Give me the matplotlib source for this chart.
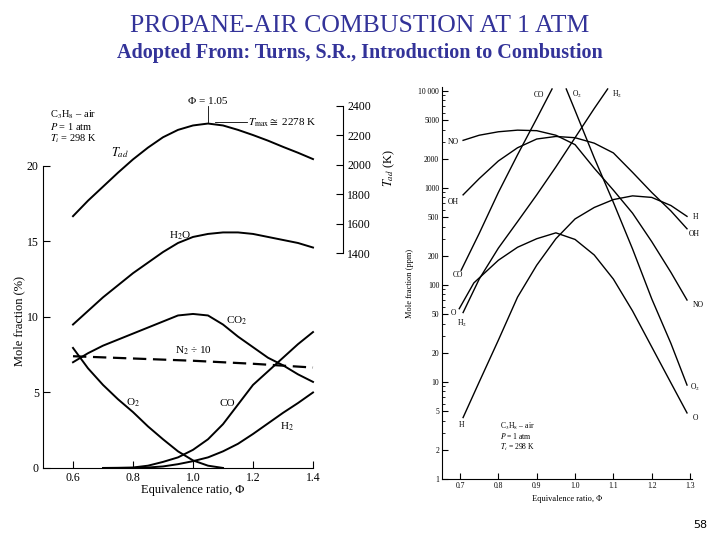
import numpy as np
import matplotlib.pyplot as plt
from matplotlib.ticker import FixedLocator, NullFormatter, LogLocator

plt.rcParams['font.family'] = ['Liberation Serif', 'DejaVu Serif']
plt.rcParams['mathtext.fontset'] = 'stix'

# ---- left panel: major species (mole %) and adiabatic flame temperature ----
phi = [0.6, 0.65, 0.7, 0.75, 0.8, 0.85, 0.9, 0.95, 1.0, 1.05, 1.1, 1.15, 1.2, 1.25, 1.3, 1.35, 1.4]
t_ad = [1650, 1755, 1850, 1945, 2035, 2115, 2185, 2235, 2265, 2278, 2265, 2235, 2200, 2162, 2120, 2080, 2037]
h2o = [9.5, 10.4, 11.3, 12.1, 12.9, 13.6, 14.3, 14.9, 15.3, 15.5, 15.6, 15.6, 15.5, 15.3, 15.1, 14.9, 14.6]
co2 = [7.0, 7.6, 8.1, 8.5, 8.9, 9.3, 9.7, 10.1, 10.2, 10.1, 9.5, 8.7, 8.0, 7.3, 6.8, 6.2, 5.7]

phi_n2 = [0.6, 0.8, 1.0, 1.2, 1.4]
n2_div10 = [7.4, 7.25, 7.1, 6.9, 6.65]

phi_o2 = [0.6, 0.65, 0.7, 0.75, 0.8, 0.85, 0.9, 0.95, 1.0, 1.05, 1.1]
o2 = [7.95, 6.6, 5.5, 4.55, 3.7, 2.75, 1.9, 1.1, 0.5, 0.15, 0.0]

phi_co = [0.7, 0.75, 0.8, 0.85, 0.9, 0.95, 1.0, 1.05, 1.1, 1.15, 1.2, 1.25, 1.3, 1.35, 1.4]
co = [0.0, 0.01, 0.03, 0.15, 0.4, 0.7, 1.2, 1.9, 2.9, 4.2, 5.5, 6.4, 7.3, 8.2, 9.0]

phi_h2 = [0.8, 0.85, 0.9, 0.95, 1.0, 1.05, 1.1, 1.15, 1.2, 1.25, 1.3, 1.35, 1.4]
h2 = [0.0, 0.03, 0.1, 0.25, 0.45, 0.7, 1.1, 1.6, 2.25, 2.95, 3.65, 4.3, 5.0]

# ---- right panel: minor species (ppm) ----
phi_co_ppm = [0.703, 0.75, 0.8, 0.85, 0.9, 0.94]
co_ppm = [142, 340, 900, 2200, 5200, 10500]

phi_o2_ppm = [0.977, 1.0, 1.05, 1.1, 1.15, 1.2, 1.25, 1.292]
o2_ppm = [10500, 6300, 2050, 710, 235, 72, 25, 9.3]

phi_h2_ppm = [0.708, 0.75, 0.8, 0.85, 0.9, 0.95, 1.0, 1.05, 1.085]
h2_ppm = [52, 115, 240, 450, 850, 1650, 3300, 6600, 10500]

phi_r = [0.708, 0.75, 0.8, 0.85, 0.9, 0.95, 1.0, 1.05, 1.1, 1.15, 1.2, 1.25, 1.292]
no_ppm = [3100, 3500, 3800, 3950, 3900, 3500, 2800, 1600, 950, 550, 280, 135, 70]
oh_ppm = [850, 1250, 1900, 2600, 3200, 3400, 3300, 2900, 2300, 1450, 900, 580, 380]
h_ppm = [4.3, 10, 27, 75, 160, 300, 480, 630, 760, 830, 800, 660, 510]

phi_o_ppm = [0.698, 0.736, 0.8, 0.85, 0.9, 0.95, 1.0, 1.05, 1.1, 1.15, 1.2, 1.25, 1.292]
o_ppm = [57, 105, 180, 245, 300, 345, 295, 204, 115, 54, 23, 9.8, 4.8]

fig = plt.figure(figsize=(7.2, 5.4), dpi=100)

fig.text(0.5, 0.952, 'PROPANE-AIR COMBUSTION AT 1 ATM', ha='center', va='center',
         fontsize=18.5, color='#333399')
fig.text(0.5, 0.902, 'Adopted From: Turns, S.R., Introduction to Combustion', ha='center',
         va='center', fontsize=14.5, fontweight='bold', color='#333399')
fig.text(0.983, 0.018, '58', ha='right', va='bottom', fontsize=8, family='DejaVu Sans')

# ---------------- left panel ----------------
ax = fig.add_axes([43 / 720, 64.5 / 540, 300 / 720, 385 / 540])
ax.set_xlim(0.5, 1.5)
ax.set_ylim(-0.5, 25)
lw = 1.4
ax.plot(phi, h2o, color='black', lw=lw)
ax.plot(phi, co2, color='black', lw=lw)
ax.plot(phi_n2, n2_div10, color='black', lw=1.6, ls=(0, (6, 3)))
ax.plot(phi_o2, o2, color='black', lw=lw)
ax.plot(phi_co, co, color='black', lw=lw)
ax.plot(phi_h2, h2, color='black', lw=lw)

for s in ['top', 'right']:
    ax.spines[s].set_visible(False)
ax.spines['bottom'].set_position(('data', 0))
ax.spines['bottom'].set_bounds(0.5, 1.4)
ax.spines['left'].set_bounds(0, 20)
ax.set_xticks([0.6, 0.8, 1.0, 1.2, 1.4])
ax.set_xticklabels(['0.6', '0.8', '1.0', '1.2', '1.4'])
ax.set_yticks([0, 5, 10, 15, 20])
ax.tick_params(direction='in', length=5, labelsize=8.5, pad=3)
ax.set_xlabel('Equivalence ratio, Φ', fontsize=9)
ax.set_ylabel('Mole fraction (%)', fontsize=9)
ax.yaxis.set_label_coords(-0.06, 0.4)
ax.xaxis.set_label_coords(0.5, -0.022)

ax.text(1.0, 7.75, 'N$_2$ ÷ 10', fontsize=8, ha='center', va='center')
ax.text(0.957, 15.35, 'H$_2$O', fontsize=8, ha='center', va='center')
ax.text(1.147, 9.75, 'CO$_2$', fontsize=8, ha='center', va='center')
ax.text(0.8, 4.3, 'O$_2$', fontsize=8, ha='center', va='center')
ax.text(1.113, 4.3, 'CO', fontsize=8, ha='center', va='center')
ax.text(1.313, 2.7, 'H$_2$', fontsize=8, ha='center', va='center')

# twin temperature axis
ax2 = ax.twinx()
ax2.set_ylim(-108, 2502)
ax2.plot(phi, t_ad, color='black', lw=lw)
for s in ['top', 'left', 'bottom']:
    ax2.spines[s].set_visible(False)
ax2.spines['right'].set_bounds(1400, 2400)
ax2.set_yticks([1400, 1600, 1800, 2000, 2200, 2400])
ax2.tick_params(direction='in', length=5, labelsize=8.5, pad=3)
ax2.set_ylabel('$T_{ad}$ (K)', fontsize=9)
ax2.yaxis.set_label_coords(1.13, 0.8)
ax2.text(0.757, 2080, '$T_{ad}$', fontsize=9, ha='center', va='center')
ax2.plot([1.05, 1.05], [2290, 2395], color='black', lw=0.6)
ax2.text(1.05, 2430, 'Φ = 1.05', fontsize=8, ha='center', va='center')
ax2.plot([1.073, 1.18], [2286, 2286], color='black', lw=0.6)
ax2.text(1.185, 2286, r'$T_{\rm max} \cong$ 2278 K', fontsize=8, ha='left', va='center')

fig.text(50 / 720, 1 - 115 / 540, 'C$_3$H$_8$ – air', fontsize=7.5, va='center')
fig.text(50 / 720, 1 - 127 / 540, '$P$ = 1 atm', fontsize=7.5, va='center')
fig.text(50 / 720, 1 - 139 / 540, '$T_i$ = 298 K', fontsize=7.5, va='center')

# ---------------- right panel ----------------
axr = fig.add_axes([442 / 720, 61 / 540, 250 / 720, 392 / 540])
axr.set_yscale('log')
axr.set_xlim(0.653, 1.305)
axr.set_ylim(1, 11000)
lw_r = 1.0
for xs, ys in [(phi_co_ppm, co_ppm), (phi_o2_ppm, o2_ppm), (phi_h2_ppm, h2_ppm),
               (phi_r, no_ppm), (phi_r, oh_ppm), (phi_r, h_ppm), (phi_o_ppm, o_ppm)]:
    axr.plot(xs, ys, color='black', lw=lw_r)

for s in ['top', 'right']:
    axr.spines[s].set_visible(False)
axr.set_xticks([0.7, 0.8, 0.9, 1.0, 1.1, 1.2, 1.3])
axr.set_xticklabels(['0.7', '0.8', '0.9', '1.0', '1.1', '1.2', '1.3'])
yt = [1, 2, 5, 10, 20, 50, 100, 200, 500, 1000, 2000, 5000, 10000]
axr.yaxis.set_major_locator(FixedLocator(yt))
axr.set_yticklabels(['1', '2', '5', '10', '20', '50', '100', '200', '500', '1000', '2000',
                     '5000', '10 000'])
axr.yaxis.set_minor_locator(LogLocator(base=10, subs=np.arange(2, 10)))
axr.yaxis.set_minor_formatter(NullFormatter())
axr.tick_params(which='major', direction='in', length=4, labelsize=5.5, pad=2)
axr.tick_params(which='minor', direction='in', length=2)
axr.set_xlabel('Equivalence ratio, Φ', fontsize=6, labelpad=4)
axr.set_ylabel('Mole fraction (ppm)', fontsize=6, labelpad=3)

labels_r = [
    ('CO', 0.905, 9200), ('O$_2$', 1.005, 9200), ('H$_2$', 1.109, 9200),
    ('NO', 0.682, 2960), ('OH', 0.682, 720), ('CO', 0.695, 127),
    ('O', 0.682, 52), ('H$_2$', 0.705, 40), ('H', 0.705, 3.6),
    ('H', 1.313, 500), ('OH', 1.31, 335), ('NO', 1.321, 62),
    ('O$_2$', 1.313, 8.7), ('O', 1.313, 4.25),
]
for txt, x, y in labels_r:
    axr.text(x, y, txt, fontsize=5.5, ha='center', va='center')

fig.text(500 / 720, 1 - 426 / 540, 'C$_3$H$_8$ – air', fontsize=5.5, va='center')
fig.text(500 / 720, 1 - 436 / 540, '$P$ = 1 atm', fontsize=5.5, va='center')
fig.text(500 / 720, 1 - 447 / 540, '$T_i$ = 298 K', fontsize=5.5, va='center')

fig.savefig('out.png', dpi=100)
